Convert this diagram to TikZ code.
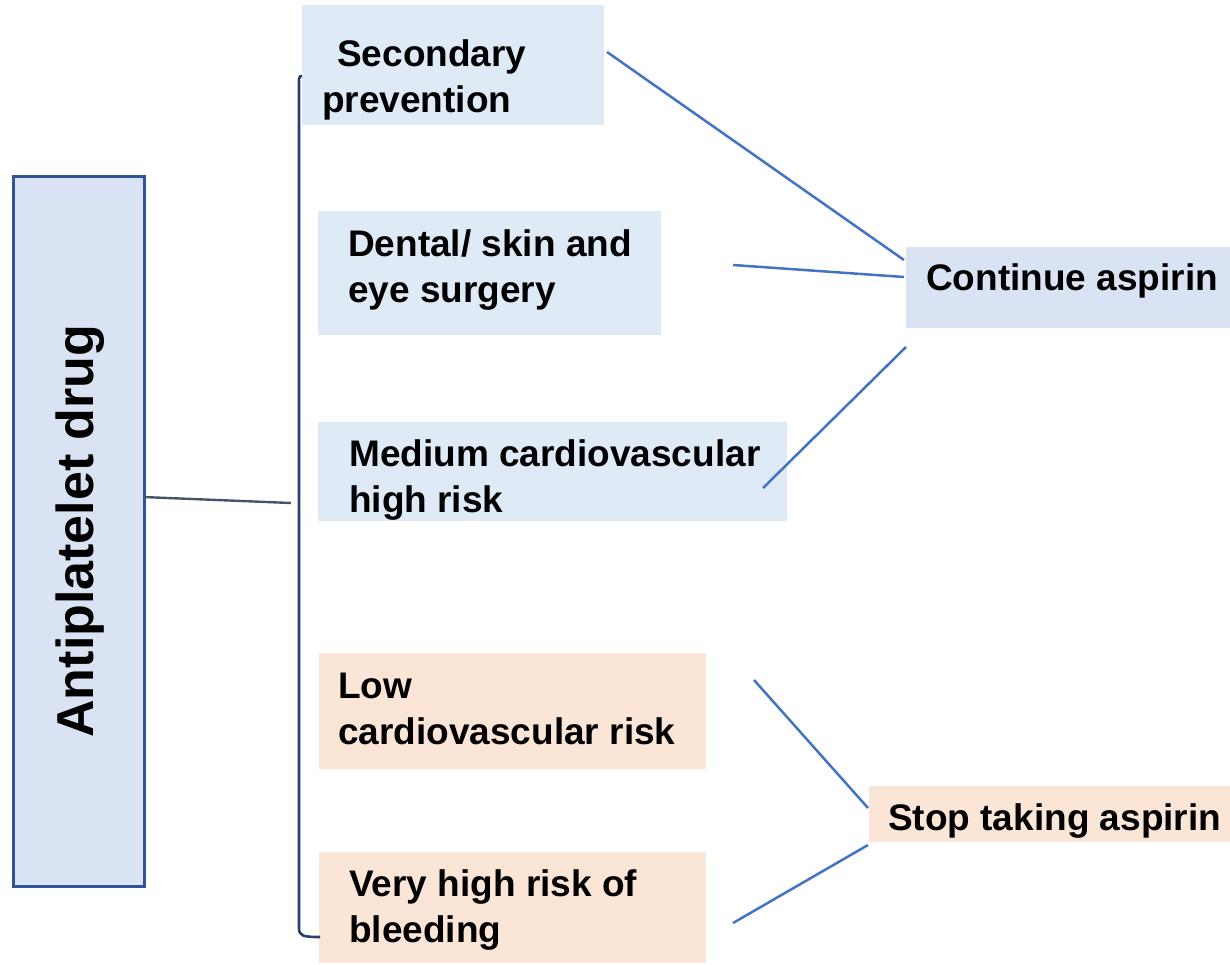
\documentclass[tikz,border=0pt]{standalone}
\usepackage{fontspec}
\setmainfont{Liberation Sans}
\definecolor{paleblue}{HTML}{DEEBF7}
\definecolor{softblue}{HTML}{DAE3F3}
\definecolor{peach}{HTML}{FBE5D6}
\definecolor{linkblue}{HTML}{4472C4}
\definecolor{frameblue}{HTML}{2F5597}
\definecolor{navy}{HTML}{2A3F6B}
\definecolor{slate}{HTML}{44546A}
\begin{document}
\begin{tikzpicture}[x=1pt,y=-1pt,
  panel/.style={rectangle,draw=none,inner sep=0,anchor=north west},
  caption/.style={inner sep=0,anchor=base west,align=left,
    font=\fontsize{37}{46}\selectfont\bfseries},
  link/.style={draw=linkblue,line width=2.5pt},
]
\useasboundingbox (0,0) rectangle (1230,964);

% root box
\node[panel,draw=frameblue,line width=2.6pt,fill=softblue,
  minimum width=131,minimum height=710] (root) at (12,175) {};
\node[rotate=90,inner sep=0,font=\fontsize{52}{60}\selectfont\bfseries]
  at (80,531) {Antiplatelet drug};

% case boxes
\node[panel,fill=paleblue,minimum width=302,minimum height=120] (sec) at (302,5) {};
\node[panel,fill=paleblue,minimum width=343,minimum height=124] (den) at (318,211) {};
\node[panel,fill=paleblue,minimum width=469,minimum height=99] (med) at (318,422) {};
\node[panel,fill=peach,minimum width=387,minimum height=116] (low) at (319,653) {};
\node[panel,fill=peach,minimum width=387,minimum height=111] (vhr) at (319,852) {};

% outcome boxes
\node[panel,fill=softblue,minimum width=324,minimum height=81] (cont) at (906,247) {};
\node[panel,fill=peach,minimum width=361,minimum height=56] (stop) at (869,786) {};

% texts (anchored on the baseline of the last line)
\node[caption] (tsec) at (337,112) {Secondary\\\hspace*{-15pt}prevention};
\node[caption] (tden) at (348,302) {Dental/ skin and\\eye surgery};
\node[caption] (tmed) at (349,512) {Medium cardiovascular\\high risk};
\node[caption] (tlow) at (338,744) {Low\\cardiovascular risk};
\node[caption] (tvhr) at (349,942) {Very high risk of\\bleeding};
\node[caption] (tcont) at (926,290) {Continue aspirin};
\node[caption] (tstop) at (888,830) {Stop taking aspirin};

% bracket grouping the cases
\coordinate (rootout) at (143,497);
\coordinate (brk) at (291,503);
\coordinate (btop) at (302,76);
\coordinate (bbot) at (320,937);
\draw[slate,line width=2.4pt] (rootout) -- (brk);
\draw[navy,line width=2.6pt]
  (btop) .. controls (300,76) .. (299,79) -- (299,928)
  .. controls (299,936) and (303,937) .. (bbot);

% connectors to the outcomes
\coordinate (a1) at (607,52);   \coordinate (b1) at (904,260);
\coordinate (a2) at (733,265);  \coordinate (b2) at (904,277);
\coordinate (a3) at (763,488);  \coordinate (b3) at (906,347);
\coordinate (a4) at (754,680);  \coordinate (b4) at (868,808);
\coordinate (a5) at (733,923);  \coordinate (b5) at (868,845);
\draw[link] (a1) -- (b1);
\draw[link] (a2) -- (b2);
\draw[link] (a3) -- (b3);
\draw[link] (a4) -- (b4);
\draw[link] (a5) -- (b5);
\end{tikzpicture}
\end{document}
